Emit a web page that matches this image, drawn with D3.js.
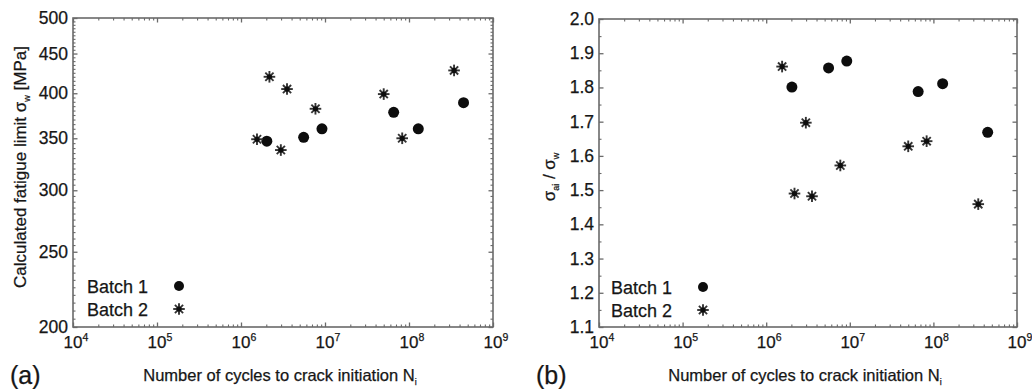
<!DOCTYPE html>
<html>
<head>
<meta charset="utf-8">
<script src="https://cdn.jsdelivr.net/npm/d3@7"></script>
<style>
  body { margin: 0; background: #fff; }
  text { font-family: "Liberation Sans", Arial, sans-serif; fill: #161616; stroke: #161616; stroke-width: 0.25; }
</style>
</head>
<body>
<div id="chart"></div>
<script>
// cycles to crack initiation, shared by both panels
const batch1N = [2.03e6, 5.57e6, 9.2e6, 6.57e7, 1.29e8, 4.46e8];
const batch2N = [1.55e6, 2.18e6, 2.98e6, 3.53e6, 7.7e6, 5.0e7, 8.3e7, 3.44e8];

// panel (a): calculated fatigue limit [MPa]
const batch1Sigma = [347, 351, 360, 378, 360, 389];
const batch2Sigma = [349, 420, 338, 405, 382, 399, 350, 428];

// panel (b): sigma_ai / sigma_w
const batch1Ratio = [1.801, 1.857, 1.877, 1.788, 1.811, 1.669];
const batch2Ratio = [1.861, 1.490, 1.697, 1.482, 1.572, 1.628, 1.643, 1.459];

const xTicks = [1e4, 1e5, 1e6, 1e7, 1e8, 1e9];
const yTicksA = [200, 250, 300, 350, 400, 450, 500];
const yTicksB = [1.1, 1.2, 1.3, 1.4, 1.5, 1.6, 1.7, 1.8, 1.9, 2.0];
const legendLabels = ["Batch 1", "Batch 2"];

const width = 1032, height = 389;
const axisColor = "#6a6a6a";

const svg = d3.select("#chart").append("svg")
    .attr("width", width)
    .attr("height", height);

svg.append("rect").attr("width", width).attr("height", height).attr("fill", "#fff");

function minorLog(lo, hi) {
    let out = [];
    for (let e = Math.log10(lo); e < Math.log10(hi); e++) {
        for (let m = 2; m <= 9; m++) out.push(m * Math.pow(10, e));
    }
    return out;
}

function range(a, b, step) {
    let out = [];
    for (let v = a; v <= b + 1e-9; v += step) out.push(+v.toFixed(4));
    return out;
}

function star(g, x, y) {
    const r = 5.8;
    const s = g.append("g").attr("transform", `translate(${x},${y})`);
    [0, 45, 90, 135].forEach(a => {
        const rad = a * Math.PI / 180;
        s.append("line")
            .attr("x1", -r * Math.cos(rad)).attr("y1", -r * Math.sin(rad))
            .attr("x2", r * Math.cos(rad)).attr("y2", r * Math.sin(rad))
            .attr("stroke", "#333").attr("stroke-width", 1.9);
    });
    s.append("circle").attr("r", 2.6).attr("fill", "#0d0d0d");
}

function drawPanel(cfg) {
    const g = svg.append("g");
    const x = d3.scaleLog().domain([1e4, 1e9]).range([cfg.left, cfg.right]);
    const y = cfg.y;

    // frame
    g.append("rect")
        .attr("x", cfg.left).attr("y", cfg.top)
        .attr("width", cfg.right - cfg.left).attr("height", cfg.bottom - cfg.top)
        .attr("fill", "none").attr("stroke", axisColor).attr("stroke-width", 1.6);

    // ticks inward on all four sides
    const tickSets = [
        { axis: d3.axisBottom(x), tr: `translate(0,${cfg.bottom})`, major: xTicks, minor: minorLog(1e4, 1e9) },
        { axis: d3.axisTop(x), tr: `translate(0,${cfg.top})`, major: xTicks, minor: minorLog(1e4, 1e9) },
        { axis: d3.axisLeft(y), tr: `translate(${cfg.left},0)`, major: cfg.yTicks, minor: cfg.yMinor },
        { axis: d3.axisRight(y), tr: `translate(${cfg.right},0)`, major: cfg.yTicks, minor: cfg.yMinor }
    ];
    tickSets.forEach(t => {
        const maj = g.append("g").attr("transform", t.tr)
            .call(t.axis.tickValues(t.major).tickSize(-4.5).tickFormat(""));
        maj.select(".domain").remove();
        maj.selectAll("line").attr("stroke", axisColor).attr("stroke-width", 1.3);
        const mn = g.append("g").attr("transform", t.tr)
            .call(t.axis.tickValues(t.minor).tickSize(-2.5).tickFormat(""));
        mn.select(".domain").remove();
        mn.selectAll("line").attr("stroke", axisColor).attr("stroke-width", 1.1);
    });

    // x tick labels with exponents
    xTicks.forEach(v => {
        const t = g.append("text")
            .attr("x", x(v) + 3).attr("y", cfg.bottom + 21)
            .attr("text-anchor", "middle").attr("font-size", 17);
        t.append("tspan").text("10");
        t.append("tspan").attr("dy", -7).attr("font-size", 10.5).text(Math.round(Math.log10(v)));
    });

    // y tick labels
    cfg.yTicks.forEach(v => {
        g.append("text")
            .attr("x", cfg.left - 5).attr("y", y(v) + 6)
            .attr("text-anchor", "end").attr("font-size", 17.5)
            .text(cfg.yFormat(v));
    });

    // x title
    const xt = g.append("text")
        .attr("x", (cfg.left + cfg.right) / 2 - 3).attr("y", 381)
        .attr("text-anchor", "middle").attr("font-size", 16.5);
    xt.append("tspan").text("Number of cycles to crack initiation N");
    xt.append("tspan").attr("dy", 4).attr("font-size", 9).text("i");

    // panel letter
    g.append("text").attr("x", cfg.letterX).attr("y", 384)
        .attr("font-size", 25).text(cfg.letter);

    // y title
    const yt = g.append("text")
        .attr("transform", `translate(${cfg.yTitleX},${cfg.yTitleY}) rotate(-90)`)
        .attr("text-anchor", "middle").attr("font-size", 17);
    cfg.yTitle(yt);

    // data
    const pts = g.append("g");
    cfg.b1.forEach((v, i) => {
        pts.append("circle")
            .attr("cx", x(batch1N[i])).attr("cy", y(v))
            .attr("r", 5.5).attr("fill", "#0d0d0d");
    });
    cfg.b2.forEach((v, i) => star(pts, x(batch2N[i]), y(v)));

    // legend
    legendLabels.forEach((lab, i) => {
        const ly = cfg.legendY + i * 23;
        g.append("text").attr("x", cfg.legendX).attr("y", ly + 6.5)
            .attr("font-size", 18).text(lab);
        if (i === 0) {
            g.append("circle").attr("cx", cfg.legendX + 92).attr("cy", ly)
                .attr("r", 5).attr("fill", "#0d0d0d");
        } else {
            star(g, cfg.legendX + 92, ly);
        }
    });
}

drawPanel({
    left: 73, right: 493, top: 18, bottom: 327,
    y: d3.scaleLog().domain([200, 500]).range([327, 18]),
    yTicks: yTicksA,
    yMinor: range(205, 495, 5).filter(v => v % 50 !== 0),
    yFormat: v => v,
    b1: batch1Sigma, b2: batch2Sigma,
    letter: "(a)", letterX: 10,
    yTitleX: 26, yTitleY: 167,
    yTitle: t => {
        t.append("tspan").text("Calculated fatigue limit σ");
        t.append("tspan").attr("dy", 4).attr("font-size", 9).text("w");
        t.append("tspan").attr("dy", -4).text(" [MPa]");
    },
    legendX: 87, legendY: 286
});

drawPanel({
    left: 599, right: 1017, top: 19, bottom: 327,
    y: d3.scaleLinear().domain([1.1, 2.0]).range([327, 19]),
    yTicks: yTicksB,
    yMinor: range(1.15, 1.95, 0.1),
    yFormat: d3.format(".1f"),
    b1: batch1Ratio, b2: batch2Ratio,
    letter: "(b)", letterX: 536,
    yTitleX: 555, yTitleY: 177,
    yTitle: t => {
        t.append("tspan").text("σ");
        t.append("tspan").attr("dy", 4).attr("font-size", 9).text("ai");
        t.append("tspan").attr("dy", -4).text("  /  σ");
        t.append("tspan").attr("dy", 4).attr("font-size", 9).text("w");
    },
    legendX: 611, legendY: 287
});
</script>
</body>
</html>
